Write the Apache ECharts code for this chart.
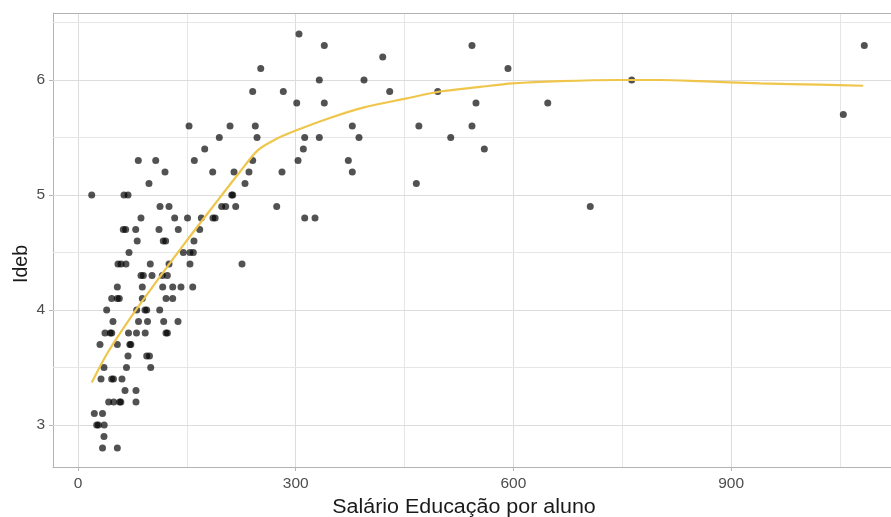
<!DOCTYPE html>
<html>
<head>
<meta charset="utf-8">
<script src="https://cdn.jsdelivr.net/npm/echarts@6/dist/echarts.min.js"></script>
<style>
html,body{margin:0;padding:0;background:#fff;}
#chart{width:891px;height:517px;}
</style>
</head>
<body>
<div id="chart"></div>
<script>
// ---- data ----
const salario = [
  304.5,
  339.4, 542.9, 1083.5,
  419.9,
  251.8, 592.5,
  332.5, 394.1, 763.0,
  240.7, 282.9, 429.5, 495.7,
  301.4, 339.4, 548.4, 647.3,
  1054.6,
  153.0, 209.5, 244.3, 378.0, 469.7, 542.9,
  194.7, 246.7, 312.4, 332.5, 387.2, 513.6,
  174.6, 310.5, 559.9,
  83.1, 107.1, 160.3, 240.7, 303.2, 372.5,
  119.9, 185.6, 215.0, 235.6, 281.1, 378.0,
  97.8, 230.1, 466.2,
  18.9, 63.4, 68.9, 211.8, 213.2,
  113.0, 125.4, 198.0, 203.5, 217.3, 273.8, 705.9,
  86.8, 133.2, 150.9, 169.9, 186.0, 189.0, 312.4, 326.6,
  62.4, 65.7, 79.5, 111.6, 138.2, 167.7,
  81.6, 117.5, 120.8, 159.8,
  70.3, 145.1, 154.3, 158.9,
  55.1, 59.3, 66.1, 99.6, 125.4, 154.3, 226.0,
  86.8, 90.0, 102.0, 116.2, 123.1,
  54.2, 88.6, 116.7, 130.5, 141.9, 158.1,
  46.4, 54.2, 56.9, 88.6, 121.3, 130.5,
  39.5, 80.9, 92.3, 94.7, 112.6,
  48.2, 83.4, 95.8, 118.1, 137.8,
  37.2, 44.5, 46.5, 69.6, 80.6, 92.6, 121.2, 123.2,
  30.3, 54.2, 71.4, 72.8,
  68.9, 94.7, 98.5,
  35.8, 66.8, 100.2,
  31.7, 46.4, 48.9, 60.6,
  64.8, 79.9,
  42.3, 49.2, 57.5, 59.0, 79.9,
  22.5, 33.8,
  25.8, 28.0, 36.1,
  35.8,
  33.8, 54.2
];
const ideb = [
  6.4,
  6.3, 6.3, 6.3,
  6.2,
  6.1, 6.1,
  6.0, 6.0, 6.0,
  5.9, 5.9, 5.9, 5.9,
  5.8, 5.8, 5.8, 5.8,
  5.7,
  5.6, 5.6, 5.6, 5.6, 5.6, 5.6,
  5.5, 5.5, 5.5, 5.5, 5.5, 5.5,
  5.4, 5.4, 5.4,
  5.3, 5.3, 5.3, 5.3, 5.3, 5.3,
  5.2, 5.2, 5.2, 5.2, 5.2, 5.2,
  5.1, 5.1, 5.1,
  5.0, 5.0, 5.0, 5.0, 5.0,
  4.9, 4.9, 4.9, 4.9, 4.9, 4.9, 4.9,
  4.8, 4.8, 4.8, 4.8, 4.8, 4.8, 4.8, 4.8,
  4.7, 4.7, 4.7, 4.7, 4.7, 4.7,
  4.6, 4.6, 4.6, 4.6,
  4.5, 4.5, 4.5, 4.5,
  4.4, 4.4, 4.4, 4.4, 4.4, 4.4, 4.4,
  4.3, 4.3, 4.3, 4.3, 4.3,
  4.2, 4.2, 4.2, 4.2, 4.2, 4.2,
  4.1, 4.1, 4.1, 4.1, 4.1, 4.1,
  4.0, 4.0, 4.0, 4.0, 4.0,
  3.9, 3.9, 3.9, 3.9, 3.9,
  3.8, 3.8, 3.8, 3.8, 3.8, 3.8, 3.8, 3.8,
  3.7, 3.7, 3.7, 3.7,
  3.6, 3.6, 3.6,
  3.5, 3.5, 3.5,
  3.4, 3.4, 3.4, 3.4,
  3.3, 3.3,
  3.2, 3.2, 3.2, 3.2, 3.2,
  3.1, 3.1,
  3.0, 3.0, 3.0,
  2.9,
  2.8, 2.8
];
// smoothed (loess) curve
const curveX = [19, 41, 72, 113, 147, 186, 223, 248, 271, 300, 347, 393, 453, 499, 554, 599, 664, 747, 802, 857, 940, 1022, 1082];
const curveY = [3.37, 3.63, 3.93, 4.29, 4.58, 4.90, 5.20, 5.39, 5.48, 5.56, 5.67, 5.76, 5.84, 5.90, 5.94, 5.97, 5.99, 6.00, 6.00, 5.99, 5.97, 5.96, 5.95];
// ticks / gridlines
const xTicks = [0, 300, 600, 900];
const xMinor = [150, 450, 750, 1050];
const yTicks = [3, 4, 5, 6];
const yMinor = [3.5, 4.5, 5.5, 6.5];

const xTitle = 'Salário Educação por aluno';
const yTitle = 'Ideb';

// ---- chart ----
const points = salario.map((s, i) => [s, ideb[i]]);
const curve = curveX.map((x, i) => [x, curveY[i]]);

const X_MIN = -34.45, X_MAX = 1120.3, Y_MIN = 2.6348, Y_MAX = 6.5826;
const MAJOR = '#dcdcdc', MINOR = '#e6e6e6', BORDER = '#b3b3b3';
const gridLines = [];
xTicks.forEach(v => gridLines.push({xAxis: v, lineStyle: {color: MAJOR, width: 1, type: 'solid'}}));
xMinor.forEach(v => gridLines.push({xAxis: v, lineStyle: {color: MINOR, width: 1, type: 'solid'}}));
yTicks.forEach(v => gridLines.push({yAxis: v, lineStyle: {color: MAJOR, width: 1, type: 'solid'}}));
yMinor.forEach(v => gridLines.push({yAxis: v, lineStyle: {color: MINOR, width: 1, type: 'solid'}}));
// panel border at the top (the right side is cut off in the reference)
gridLines.push({yAxis: Y_MAX, lineStyle: {color: BORDER, width: 1, type: 'solid'}});

const FONT = '"Liberation Sans", Arial, sans-serif';
const chart = echarts.init(document.getElementById('chart'), null, {renderer: 'canvas'});
chart.setOption({
  animation: false,
  backgroundColor: '#ffffff',
  grid: {left: 53, top: 13, right: 0, bottom: 50, show: false},
  xAxis: {
    type: 'value', min: X_MIN, max: X_MAX,
    axisLine: {show: true, onZero: false, lineStyle: {color: BORDER, width: 1}},
    splitLine: {show: false},
    axisTick: {show: true, customValues: xTicks, length: 4, lineStyle: {color: BORDER}},
    axisLabel: {customValues: xTicks, color: '#4d4d4d', fontSize: 15.5, fontFamily: FONT, margin: 9}
  },
  yAxis: {
    type: 'value', min: Y_MIN, max: Y_MAX,
    axisLine: {show: true, onZero: false, lineStyle: {color: BORDER, width: 1}},
    splitLine: {show: false},
    axisTick: {show: true, customValues: yTicks, length: 4, lineStyle: {color: BORDER}},
    axisLabel: {customValues: yTicks, color: '#4d4d4d', fontSize: 15.5, fontFamily: FONT, margin: 8}
  },
  graphic: [
    {type: 'text', x: 464, y: 508, scaleX: 1.1, silent: true,
     style: {text: xTitle, fill: '#1a1a1a', fontSize: 19.5, fontFamily: FONT, align: 'center', verticalAlign: 'middle'}},
    {type: 'text', x: 22, y: 264, rotation: Math.PI / 2, silent: true,
     style: {text: yTitle, fill: '#1a1a1a', fontSize: 19.5, fontFamily: FONT, align: 'center', verticalAlign: 'middle'}}
  ],
  series: [
    {
      type: 'line', data: [], z: 1, silent: true,
      markLine: {z: 1, silent: true, symbol: 'none', label: {show: false}, animation: false, data: gridLines}
    },
    {
      type: 'scatter', data: points, z: 6, symbol: 'circle', symbolSize: 7,
      itemStyle: {color: '#000000', opacity: 0.68}
    },
    {
      type: 'line', data: curve, z: 7, symbol: 'none', smooth: 0.3,
      lineStyle: {color: '#EFC64B', width: 2.2}
    }
  ]
});
</script>
</body>
</html>
